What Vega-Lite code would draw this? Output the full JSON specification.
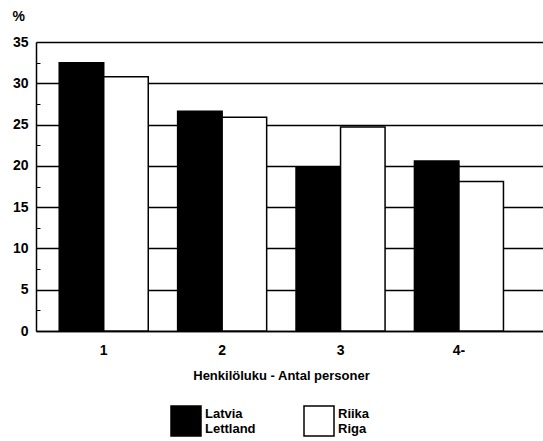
{
  "$schema": "https://vega.github.io/schema/vega-lite/v6.json",
  "width": 507,
  "height": 289,
  "autosize": "none",
  "padding": {"left": 36, "top": 42, "right": 0, "bottom": 110},
  "background": "white",
  "config": {"view": {"stroke": null}, "font": "Liberation Sans"},
  "data": {
    "values": [
      {"group": "1", "series": "Latvia|Lettland", "value": 32.5},
      {"group": "1", "series": "Riika|Riga", "value": 30.8},
      {"group": "2", "series": "Latvia|Lettland", "value": 26.6},
      {"group": "2", "series": "Riika|Riga", "value": 25.9},
      {"group": "3", "series": "Latvia|Lettland", "value": 19.8},
      {"group": "3", "series": "Riika|Riga", "value": 24.7},
      {"group": "4-", "series": "Latvia|Lettland", "value": 20.6},
      {"group": "4-", "series": "Riika|Riga", "value": 18.1}
    ]
  },
  "resolve": {"axis": {"y": "independent"}},
  "layer": [
    {
      "mark": {"type": "bar", "stroke": "black", "strokeWidth": 1.5},
      "encoding": {
        "x": {
          "field": "group", "type": "nominal", "sort": null,
          "scale": {"paddingInner": 0.248, "paddingOuter": 0.265, "align": 0.37},
          "axis": {
            "title": "Henkilöluku - Antal personer",
            "titleFont": "Liberation Sans", "titleFontWeight": "bold", "titleFontSize": 13, "titleColor": "black",
            "titleX": 245, "titleY": 48, "titleAlign": "center", "titleBaseline": "alphabetic",
            "labelAngle": 0, "labelFont": "Liberation Sans", "labelFontWeight": "bold", "labelFontSize": 14, "labelColor": "black",
            "labelPadding": 12, "ticks": false, "domainColor": "black", "domainWidth": 1.5
          }
        },
        "xOffset": {"field": "series", "type": "nominal", "sort": null, "scale": {"paddingInner": 0, "paddingOuter": 0}},
        "y": {
          "field": "value", "type": "quantitative",
          "scale": {"domain": [0, 35], "nice": false},
          "axis": {
            "title": "%", "titleAngle": 0, "titleX": -24, "titleY": -22, "titleAlign": "left", "titleBaseline": "alphabetic",
            "titleFont": "Liberation Sans", "titleFontWeight": "bold", "titleFontSize": 14, "titleColor": "black",
            "values": [0, 5, 10, 15, 20, 25, 30, 35],
            "labelFont": "Liberation Sans", "labelFontWeight": "bold", "labelFontSize": 14, "labelColor": "black",
            "labelPadding": 8, "ticks": false, "grid": true, "gridColor": "black", "gridWidth": 1.5, "gridOpacity": 1,
            "domainColor": "black", "domainWidth": 1.5
          }
        },
        "color": {
          "field": "series", "type": "nominal", "sort": null,
          "scale": {"domain": ["Latvia|Lettland", "Riika|Riga"], "range": ["black", "white"]},
          "legend": {
            "title": null, "orient": "none", "legendX": 134, "legendY": 363, "direction": "horizontal",
            "symbolType": "square", "symbolSize": 900, "symbolStrokeColor": "black", "symbolStrokeWidth": 1.5, "symbolOpacity": 1,
            "labelExpr": "split(datum.label, '|')", "labelFont": "Liberation Sans", "labelFontWeight": "bold", "labelFontSize": 13,
            "labelColor": "black", "labelOffset": 3, "labelLineHeight": 14, "labelBaseline": "bottom", "columnPadding": 45, "padding": 0
          }
        }
      }
    },
    {
      "mark": {"type": "bar", "opacity": 0},
      "encoding": {
        "x": {"field": "group", "type": "nominal", "sort": null},
        "xOffset": {"field": "series", "type": "nominal", "sort": null},
        "y": {
          "field": "value", "type": "quantitative",
          "axis": {
            "orient": "left", "title": null, "values": [2.5, 7.5, 12.5, 17.5, 22.5, 27.5, 32.5],
            "labels": false, "grid": false, "domain": false, "ticks": true, "tickSize": -4, "tickColor": "black", "tickWidth": 1
          }
        }
      }
    }
  ]
}
